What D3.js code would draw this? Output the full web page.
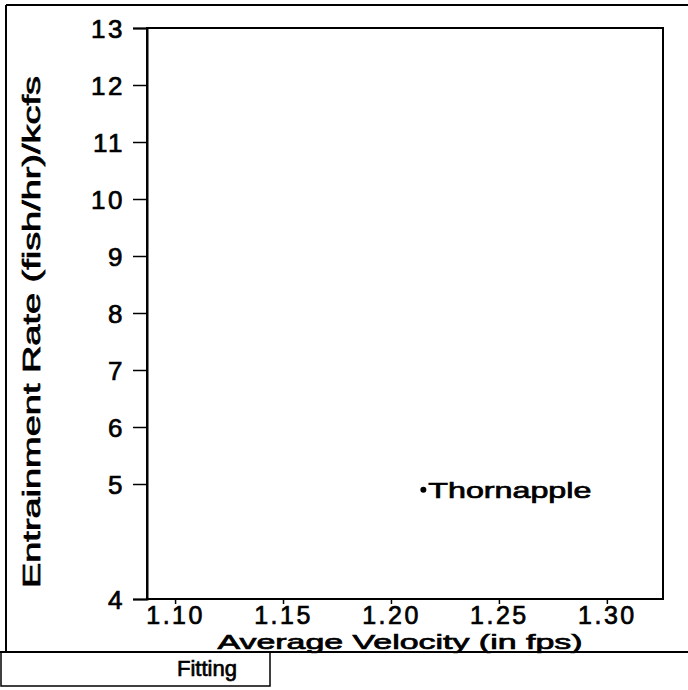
<!DOCTYPE html>
<html><head><meta charset="utf-8">
<script src="https://cdn.jsdelivr.net/npm/d3@7"></script>
<style>
html,body{margin:0;padding:0;background:#fff;}
text{font-family:"Liberation Sans",Arial,sans-serif;fill:#000;stroke:#000;stroke-width:0.7px;}
</style></head>
<body><svg id="c" width="688" height="690"></svg>
<script>
// Data
const siteNames = ["Thornapple"];
const velocity = [1.215];
const entrainment = [4.95];
const xTickValues = [1.10, 1.15, 1.20, 1.25, 1.30];
const yTickValues = [4, 5, 6, 7, 8, 9, 10, 11, 12, 13];
const xTitle = "Average Velocity (in fps)";
const yTitle = "Entrainment Rate (fish/hr)/kcfs";
const footerLabel = "Fitting";

const svg = d3.select("#c");
const L = 147, T = 28, R = 663, B = 599;
const FF = "Liberation Sans, Arial, sans-serif";

// frame
svg.append("line").attr("x1",6).attr("x2",688).attr("y1",5).attr("y2",5).attr("stroke","#000").attr("stroke-width",2);
svg.append("line").attr("x1",6).attr("x2",6).attr("y1",5).attr("y2",652).attr("stroke","#000").attr("stroke-width",2);
svg.append("line").attr("x1",0).attr("x2",688).attr("y1",652).attr("y2",652).attr("stroke","#000").attr("stroke-width",2);
svg.append("rect").attr("x",1).attr("y",652).attr("width",269).attr("height",34).attr("fill","none").attr("stroke","#000").attr("stroke-width",1.5);
svg.append("text").attr("x",207).attr("y",676).attr("text-anchor","middle").attr("font-size",22)
  .attr("textLength",60).attr("lengthAdjust","spacingAndGlyphs").text(footerLabel);

const x = d3.scaleLinear().domain([1.087, 1.326]).range([L, R]);
const y = d3.scaleLinear().domain([4, 5, 13]).range([B, 484, T]);

// plot box
svg.append("rect").attr("x",L).attr("y",T).attr("width",R-L).attr("height",B-T).attr("fill","none").attr("stroke","#000").attr("stroke-width",2);

const yAxis = svg.append("g").attr("transform",`translate(${L},0)`)
  .call(d3.axisLeft(y).tickValues(yTickValues).tickFormat(d3.format("d")).tickSize(14).tickPadding(8));
yAxis.select(".domain").attr("stroke-width",2);
yAxis.selectAll(".tick line").attr("stroke-width",1.5);
yAxis.selectAll("text").attr("font-size",26).attr("font-family",FF)
  .attr("letter-spacing","2.5px").attr("dy","0.36em");

const xAxis = svg.append("g").attr("transform",`translate(0,${B})`)
  .call(d3.axisBottom(x).tickValues(xTickValues).tickFormat(d3.format(".2f")).tickSize(5).tickPadding(3));
xAxis.select(".domain").remove();
xAxis.selectAll(".tick line").attr("stroke-width",1.5);
xAxis.selectAll("text").attr("font-size",25).attr("font-family",FF)
  .attr("letter-spacing","2.5px").attr("dy","0.68em");

svg.append("text").attr("x",400).attr("y",649).attr("text-anchor","middle").attr("font-size",21)
  .attr("textLength",365).attr("lengthAdjust","spacingAndGlyphs").text(xTitle);
svg.append("text").attr("transform",`translate(40,332) rotate(-90)`).attr("text-anchor","middle").attr("font-size",23)
  .attr("textLength",512).attr("lengthAdjust","spacingAndGlyphs").text(yTitle);

// points
const pts = svg.append("g");
siteNames.forEach((n,i)=>{
  pts.append("circle").attr("cx",x(velocity[i])).attr("cy",y(entrainment[i])).attr("r",3).attr("fill","#000");
  pts.append("text").attr("x",x(velocity[i])+5).attr("y",y(entrainment[i])+8).attr("font-size",22)
    .attr("textLength",163).attr("lengthAdjust","spacingAndGlyphs").text(n);
});
</script></body></html>
